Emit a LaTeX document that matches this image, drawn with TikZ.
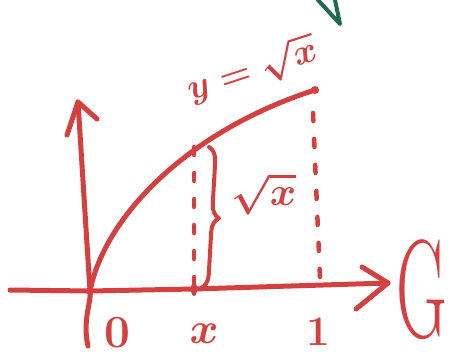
\RequirePackage{fix-cm}
\documentclass[tikz,border=0pt]{standalone}
\usetikzlibrary{decorations.pathreplacing,arrows.meta}
\definecolor{pen}{HTML}{D4403F}
\definecolor{pengreen}{HTML}{1E6B52}
\tikzset{
  ink/.style={draw=pen, line width=5pt, line cap=round, line join=round},
  dashline/.style={draw=pen, line width=4.5pt, line cap=round, dash pattern=on 8pt off 18pt},
  lbl/.style={text=pen, inner sep=0pt},
}
\begin{document}
\begin{tikzpicture}[x=1pt,y=-1pt]
\useasboundingbox (0,0) rectangle (459,362);
% key points
\coordinate (O) at (90,291);
\coordinate (xl) at (10,290);
\coordinate (xr) at (388,283);
\coordinate (yt) at (78,102);
\coordinate (yb) at (88,346);
\coordinate (P) at (315,90);
\coordinate (Xb) at (194,289);
\coordinate (Xt) at (194,147);
\coordinate (Ob) at (320,278);
\coordinate (Ot) at (313,113);
\coordinate (Bt) at (209,147);
\coordinate (Bb) at (201,288);
% axes
\draw[ink] (xl) -- (O) -- (Xb) -- (xr);
\draw[ink] (362,267) -- (xr) -- (356,309);
\draw[ink] (yb) .. controls (82,320) and (92,300) .. (O) -- (yt);
\draw[ink] (67,135) -- (yt) -- (97,119);
% curve
\draw[ink] (O) .. controls (105,215) and (190,130) .. (P);
\fill[pen] (P) circle (4pt);
\fill[pen] (O) circle (4pt);
\fill[pen] (Xb) ellipse (3pt and 7pt);
% dashed
\draw[dashline] (Xt) -- (Xb);
\draw[dashline] (Ot) -- (Ob);
% brace
\draw[ink, line width=4pt, decorate, decoration={brace, amplitude=14pt}] (Bt) -- (Bb);
% labels
\node[lbl, font=\fontsize{40}{44}\selectfont\boldmath] (lsq) at (264,194) {$\sqrt{x}$};
\node[lbl, font=\fontsize{36}{42}\selectfont\boldmath, rotate=18] (leq) at (252,70) {$y=\sqrt{x}$};
\node[lbl, font=\fontsize{46}{50}\selectfont\boldmath] (l0) at (117,333) {$0$};
\node[lbl, font=\fontsize{44}{48}\selectfont\boldmath] (lx) at (204,334) {$x$};
\node[lbl, font=\fontsize{42}{46}\selectfont\boldmath] (l1) at (318,332) {$1$};
\node[lbl, font=\fontsize{140}{140}\selectfont, xscale=0.5] (lG) at (422,290) {G};
% green stroke
\draw[draw=pengreen, line width=4pt, line cap=round, line join=round] (318,0) -- (340,24) -- (335,0);
\end{tikzpicture}
\end{document}
